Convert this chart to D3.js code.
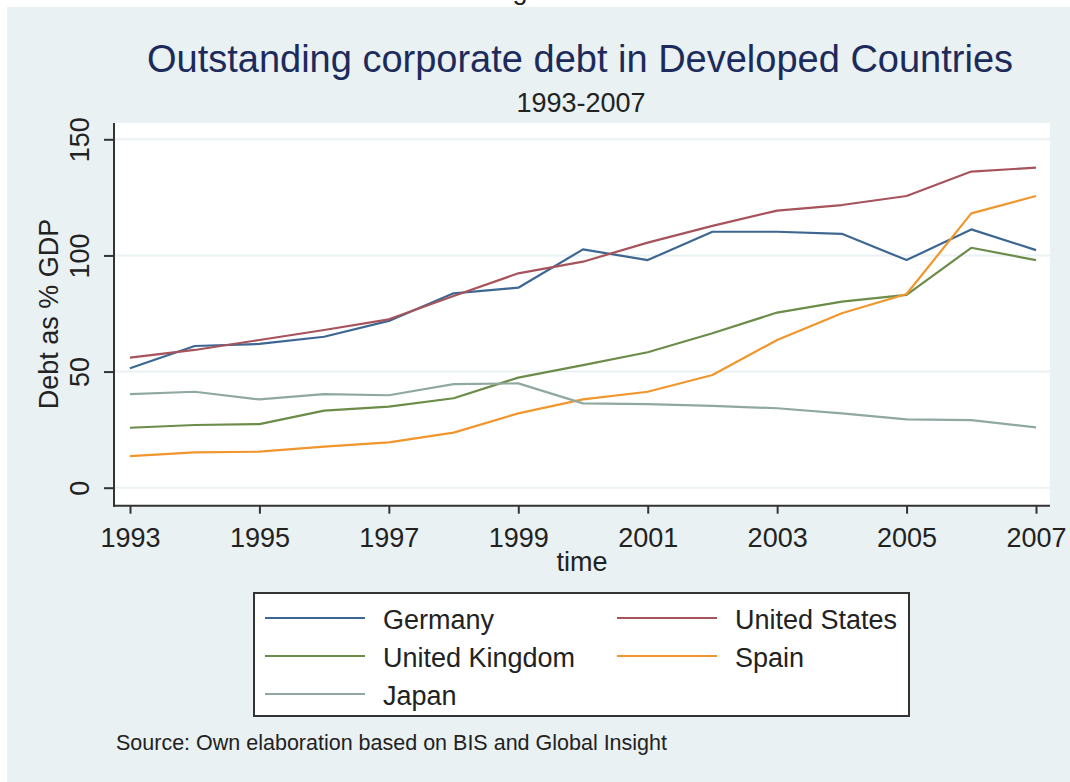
<!DOCTYPE html>
<html>
<head>
<meta charset="utf-8">
<script src="https://cdn.jsdelivr.net/npm/d3@7"></script>
<style>
  html, body { margin: 0; padding: 0; background: #ffffff; }
  svg { display: block; }
  text { font-family: "Liberation Sans", Arial, sans-serif; }
</style>
</head>
<body>
<svg id="chart" width="1070" height="782"></svg>
<script>
// Corporate debt as % of GDP, 1993-2007
const years = [1993, 1994, 1995, 1996, 1997, 1998, 1999, 2000, 2001, 2002, 2003, 2004, 2005, 2006, 2007];
const germany = [51.4, 61.0, 61.9, 65.0, 71.8, 83.7, 86.1, 102.6, 98.0, 110.2, 110.2, 109.3, 98.0, 111.2, 102.3];
const unitedStates = [56.0, 59.3, 63.6, 67.9, 72.5, 82.5, 92.3, 97.3, 105.5, 112.7, 119.3, 121.7, 125.6, 136.1, 137.8];
const unitedKingdom = [25.8, 27.0, 27.4, 33.2, 34.9, 38.5, 47.4, 52.8, 58.3, 66.5, 75.4, 80.1, 83.0, 103.3, 98.0];
const spain = [13.6, 15.2, 15.5, 17.7, 19.5, 23.7, 32.0, 38.0, 41.3, 48.5, 63.6, 75.1, 83.4, 118.1, 125.6];
const japan = [40.3, 41.3, 38.0, 40.3, 39.8, 44.6, 44.9, 36.3, 36.0, 35.2, 34.2, 32.0, 29.4, 29.1, 26.0];

const seriesNames = ["Germany", "United States", "United Kingdom", "Spain", "Japan"];
const seriesValues = [germany, unitedStates, unitedKingdom, spain, japan];
const seriesColors = ["#3d6792", "#a6535c", "#6c8c49", "#f0962c", "#8fa99f"];

const yTicks = [0, 50, 100, 150];
const xTicks = [1993, 1995, 1997, 1999, 2001, 2003, 2005, 2007];

const svg = d3.select("#chart");

// outer graph region
svg.append("rect").attr("x", 7).attr("y", 7).attr("width", 1063).attr("height", 775)
  .attr("fill", "#e9f1f3");

// clipped glyph of a heading above the frame
svg.append("text").attr("x", 520).attr("y", -1).attr("text-anchor", "middle")
  .attr("font-size", 27).attr("fill", "#222").text("g");

// plot region
const plot = { left: 114, right: 1050, top: 123, bottom: 505.7 };
svg.append("rect").attr("x", plot.left).attr("y", plot.top)
  .attr("width", plot.right - plot.left).attr("height", plot.bottom - plot.top)
  .attr("fill", "#ffffff");

const x = d3.scaleLinear().domain([1993, 2007]).range([130, 1036]);
const y = d3.scaleLinear().domain([0, 150]).range([487.7, 139.3]);

// grid lines
svg.append("g").selectAll("line").data(yTicks).join("line")
  .attr("x1", plot.left).attr("x2", plot.right)
  .attr("y1", d => y(d)).attr("y2", d => y(d))
  .attr("stroke", "#eaf2f4").attr("stroke-width", 2);

// series lines
const line = d3.line().x((d, i) => x(years[i])).y(d => y(d));
svg.append("g").selectAll("path").data(seriesValues).join("path")
  .attr("d", d => line(d))
  .attr("fill", "none")
  .attr("stroke", (d, i) => seriesColors[i])
  .attr("stroke-width", 2.2)
  .attr("stroke-linejoin", "round");

// y axis
const yAxis = svg.append("g").attr("transform", `translate(${plot.left},0)`)
  .call(d3.axisLeft(y).tickValues(yTicks).tickSize(10).tickPadding(0).tickFormat(d3.format("d")));
yAxis.select(".domain").remove();
yAxis.selectAll(".tick line").attr("stroke", "#333").attr("stroke-width", 2);
yAxis.selectAll(".tick text")
  .attr("font-size", 27).attr("fill", "#222")
  .attr("text-anchor", "middle")
  .attr("x", null).attr("dy", null)
  .attr("transform", "translate(-25,0) rotate(-90)");
svg.append("line").attr("x1", plot.left).attr("x2", plot.left)
  .attr("y1", plot.top).attr("y2", plot.bottom + 1)
  .attr("stroke", "#333").attr("stroke-width", 2);

// x axis
const xAxis = svg.append("g").attr("transform", `translate(0,${plot.bottom})`)
  .call(d3.axisBottom(x).tickValues(xTicks).tickSize(8).tickPadding(0).tickFormat(d3.format("d")));
xAxis.select(".domain").remove();
xAxis.selectAll(".tick line").attr("stroke", "#333").attr("stroke-width", 2);
xAxis.selectAll(".tick text")
  .attr("font-size", 27).attr("fill", "#222")
  .attr("y", 41).attr("dy", null);
svg.append("line").attr("x1", plot.left - 1).attr("x2", plot.right)
  .attr("y1", plot.bottom).attr("y2", plot.bottom)
  .attr("stroke", "#333").attr("stroke-width", 2);

// axis titles
svg.append("text").attr("transform", "translate(58,314) rotate(-90)")
  .attr("text-anchor", "middle").attr("font-size", 27).attr("fill", "#222")
  .text("Debt as % GDP");
svg.append("text").attr("x", 582).attr("y", 571)
  .attr("text-anchor", "middle").attr("font-size", 27).attr("fill", "#222")
  .text("time");

// titles
svg.append("text").attr("x", 580).attr("y", 72)
  .attr("text-anchor", "middle").attr("font-size", 38).attr("fill", "#1c2b5b")
  .text("Outstanding corporate debt in Developed Countries");
svg.append("text").attr("x", 581).attr("y", 112)
  .attr("text-anchor", "middle").attr("font-size", 27).attr("fill", "#222")
  .text("1993-2007");

// legend
const legend = svg.append("g");
legend.append("rect").attr("x", 254).attr("y", 593).attr("width", 655).attr("height", 123)
  .attr("fill", "#ffffff").attr("stroke", "#333").attr("stroke-width", 2);
const legendCols = [265, 617];
const legendRows = [618, 656, 694];
const items = legend.selectAll("g.item").data(seriesNames).join("g").attr("class", "item")
  .attr("transform", (d, i) => `translate(${legendCols[i % 2]},${legendRows[Math.floor(i / 2)]})`);
items.append("line").attr("x1", 0).attr("x2", 100).attr("y1", 0).attr("y2", 0)
  .attr("stroke", (d, i) => seriesColors[i]).attr("stroke-width", 2.2);
items.append("text").attr("x", 118).attr("y", 11)
  .attr("font-size", 27).attr("fill", "#222").text(d => d);

// source note
svg.append("text").attr("x", 116).attr("y", 750)
  .attr("font-size", 21.5).attr("fill", "#222")
  .text("Source: Own elaboration based on BIS and Global Insight");
</script>
</body>
</html>
